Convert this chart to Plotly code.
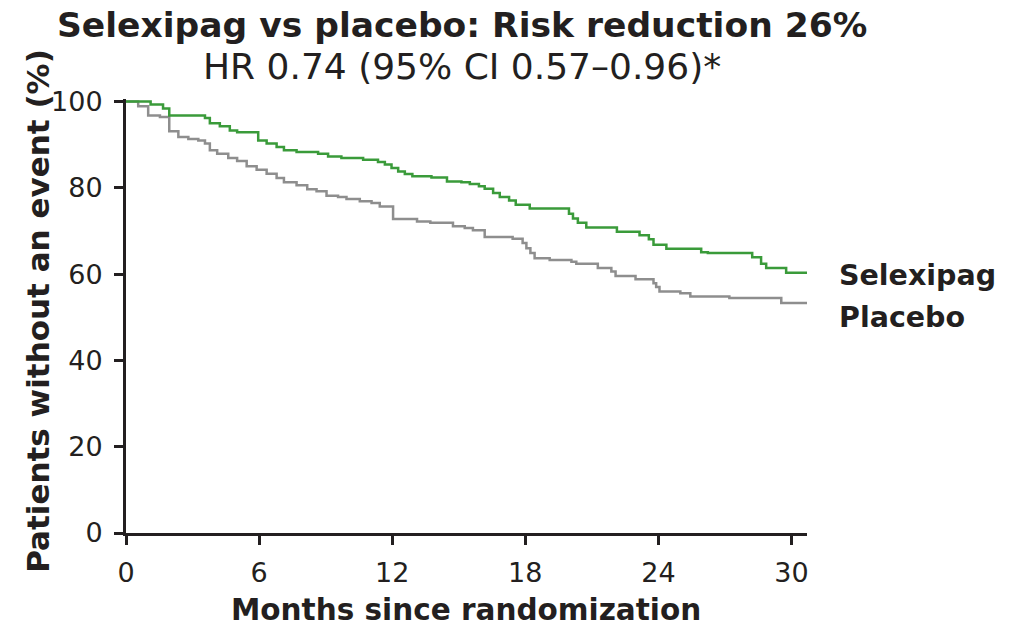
import plotly.graph_objects as go

# Kaplan-Meier step data (months, % without event)
selexipag_t = [0, 1.11, 1.67, 1.95, 3.56, 3.78, 4.23, 4.68, 5.01, 5.96, 6.34, 6.79, 7.12, 7.69,
               8.66, 9.11, 9.71, 10.69, 11.36, 11.67, 11.97, 12.27, 12.57, 12.91, 13.77, 14.47,
               15.12, 15.5, 15.91, 16.17, 16.55, 16.85, 17.27, 17.57, 18.2, 19.97, 20.15, 20.37,
               20.75, 22.13, 23.15, 23.57, 23.78, 24.36, 25.93, 26.23, 28.23, 28.63, 28.86, 29.76, 30.7]
selexipag_v = [100, 99.3, 98.4, 96.8, 96.2, 95.0, 94.3, 93.3, 92.9, 91.0, 90.3, 89.5, 88.7, 88.3,
               87.9, 87.3, 86.9, 86.5, 86.0, 85.4, 84.6, 83.8, 83.2, 82.7, 82.4, 81.5,
               81.3, 80.9, 80.4, 79.8, 78.8, 77.9, 77.1, 76.1, 75.2, 74.0, 72.9, 71.9,
               70.8, 69.8, 69.0, 68.1, 66.8, 65.9, 65.1, 64.9, 63.9, 62.4, 61.4, 60.3, 60.3]

placebo_t = [0, 0.55, 1.0, 1.53, 1.95, 2.36, 2.81, 3.26, 3.56, 3.78, 4.11, 4.61, 5.01, 5.44, 5.89,
             6.34, 6.79, 7.12, 7.69, 8.17, 8.59, 9.04, 9.56, 9.94, 10.54, 11.07, 11.44, 12.04,
             13.12, 13.72, 14.74, 15.27, 15.64, 16.17, 17.43, 17.88, 18.05, 18.23, 18.42, 19.1,
             20.08, 20.3, 21.27, 21.88, 22.07, 22.97, 23.78, 23.9, 24.05, 24.99, 25.44, 27.2, 29.54, 30.7]
placebo_v = [100, 98.9, 96.8, 96.4, 93.1, 91.8, 91.3, 91.0, 90.3, 88.7, 87.9, 86.9, 86.2, 85.0, 84.2,
             83.3, 82.3, 81.3, 80.6, 79.7, 79.2, 78.2, 77.9, 77.4, 76.9, 76.5, 75.7, 72.8,
             72.2, 71.9, 71.1, 70.7, 70.2, 68.6, 68.2, 67.2, 66.0, 64.9, 63.7, 63.3,
             62.9, 62.4, 61.4, 60.6, 59.6, 58.8, 57.9, 57.0, 56.0, 55.6, 54.8, 54.5, 53.3, 53.3]

x_ticks = [0, 6, 12, 18, 24, 30]
y_ticks = [0, 20, 40, 60, 80, 100]

title_text = "Selexipag vs placebo: Risk reduction 26%"
subtitle_text = "HR 0.74 (95% CI 0.57–0.96)*"
x_title = "Months since randomization"
y_title = "Patients without an event (%)"
series_names = ["Selexipag", "Placebo"]

FONT = "DejaVu Sans"
INK = "#231f20"
GREEN = "#3a9b3a"
GRAY = "#8e8e8e"

L, R_EDGE = 126, 807.5
Y0, PH = 533, 433.6
PW = R_EDGE - L


def px_x(v):
    return (v - L) / PW


def px_y(v):
    return (Y0 - v) / PH


fig = go.Figure()
fig.add_trace(go.Scatter(x=placebo_t, y=placebo_v, mode="lines", line_shape="hv",
                         line=dict(color=GRAY, width=2.5), name=series_names[1]))
fig.add_trace(go.Scatter(x=selexipag_t, y=selexipag_v, mode="lines", line_shape="hv",
                         line=dict(color=GREEN, width=2.5), name=series_names[0]))

axis_common = dict(ticks="outside", ticklen=9, tickwidth=3, tickcolor=INK, showline=True,
                   linecolor=INK, linewidth=3, showgrid=False, zeroline=False,
                   tickfont=dict(size=27, family=FONT, color=INK))

fig.update_layout(
    width=1022, height=628,
    margin=dict(l=L, r=1022 - R_EDGE, t=Y0 - PH, b=628 - Y0),
    paper_bgcolor="white", plot_bgcolor="white",
    showlegend=False,
    font=dict(family=FONT, color=INK),
    xaxis=dict(range=[0, 30.7], tickvals=x_ticks, ticklabelstandoff=5, **axis_common),
    yaxis=dict(range=[0, 100.6], tickvals=y_ticks, ticklabelstandoff=6, **axis_common),
)

annos = [
    dict(text="<b>" + title_text + "</b>", x=462, y=25, size=34.5),
    dict(text=subtitle_text, x=462, y=67, size=36),
    dict(text="<b>" + x_title + "</b>", x=466, y=610, size=29.5),
]
for a in annos:
    fig.add_annotation(text=a["text"], xref="paper", yref="paper",
                       x=px_x(a["x"]), y=px_y(a["y"]),
                       xanchor="center", yanchor="middle", showarrow=False,
                       font=dict(size=a["size"], family=FONT, color=INK))

fig.add_annotation(text="<b>" + y_title + "</b>", xref="paper", yref="paper",
                   x=px_x(38), y=px_y(311), textangle=-90,
                   xanchor="center", yanchor="middle", showarrow=False,
                   font=dict(size=31, family=FONT, color=INK))

for name, ypx in zip(series_names, [276, 318]):
    fig.add_annotation(text="<b>" + name + "</b>", xref="paper", yref="paper",
                       x=px_x(838), y=px_y(ypx), xanchor="left", yanchor="middle",
                       showarrow=False, font=dict(size=28.5, family=FONT, color=INK))

fig.write_html("out.html")
